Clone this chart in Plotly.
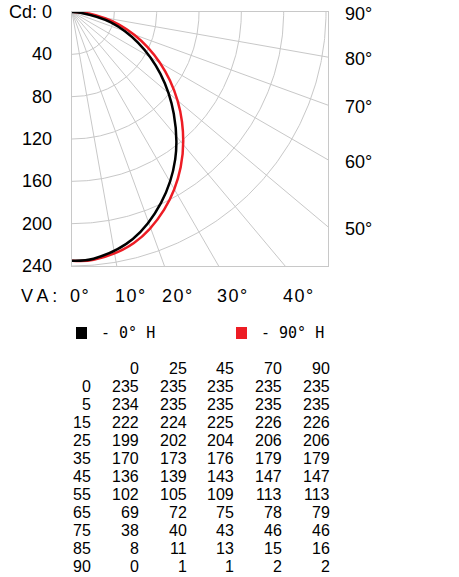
import numpy as np
import plotly.graph_objects as go

# ---------------- data ----------------
c_planes = [0, 25, 45, 70, 90]
gamma_angles = [0, 5, 15, 25, 35, 45, 55, 65, 75, 85, 90]
cd_c0 = [235, 234, 222, 199, 170, 136, 102, 69, 38, 8, 0]
cd_c25 = [235, 235, 224, 202, 173, 139, 105, 72, 40, 11, 1]
cd_c45 = [235, 235, 225, 204, 176, 143, 109, 75, 43, 13, 1]
cd_c70 = [235, 235, 226, 206, 179, 147, 113, 78, 46, 15, 2]
cd_c90 = [235, 235, 226, 206, 179, 147, 113, 79, 46, 16, 2]

cd_ticks = [0, 40, 80, 120, 160, 200, 240]
cd_tick_labels = ["Cd: 0", "40", "80", "120", "160", "200", "240"]
va_angles = [0, 10, 20, 30, 40]
va_labels = ["0°", "10°", "20°", "30°", "40°"]
side_angles = [90, 80, 70, 60, 50]
side_labels = ["90°", "80°", "70°", "60°", "50°"]
grid_circles = [40, 80, 120, 160, 200, 240]
grid_rays = [10, 20, 30, 40, 50, 60, 70, 80]
legend_labels = ["- 0° H", "- 90° H"]

# ---------------- geometry / style ----------------
W, H = 459, 577
PL, PT, PW, PH = 72, 12, 256, 254
K = PH / 240.0  # px per cd
X_MAX = PW / K
Y_MAX = PH / K
GRID = "#c8c8c8"
RED = "#ed1c24"
SANS = "Liberation Sans, Arial, sans-serif"
MONO = "DejaVu Sans Mono, Liberation Mono, monospace"


def pxx(x):
    return (x - PL) / PW


def pxy(y):
    return 1 - (y - PT) / PH


def to_xy(angles_deg, radii):
    a = np.radians(np.asarray(angles_deg, dtype=float))
    r = np.asarray(radii, dtype=float)
    return r * np.sin(a), r * np.cos(a)


fig = go.Figure()

# grid circles
t = np.linspace(0, 90, 181)
for rc in grid_circles:
    gx, gy = to_xy(t, np.full_like(t, rc))
    fig.add_trace(go.Scatter(x=gx, y=gy, mode="lines", line=dict(color=GRID, width=1),
                             hoverinfo="skip", showlegend=False))
# grid rays
for ang in grid_rays:
    gx, gy = to_xy([ang, ang], [0, 600])
    fig.add_trace(go.Scatter(x=gx, y=gy, mode="lines", line=dict(color=GRID, width=1),
                             hoverinfo="skip", showlegend=False))

# curves (red below black)
for vals, col, name in [(cd_c90, RED, "90° H"), (cd_c0, "#000000", "0° H")]:
    cx, cy = to_xy(gamma_angles, vals)
    fig.add_trace(go.Scatter(x=cx, y=cy, mode="lines", name=name,
                             line=dict(color=col, width=2.5, shape="spline", smoothing=1.0),
                             showlegend=False))

ann = []
# left Cd labels
for v, lab in zip(cd_ticks, cd_tick_labels):
    ann.append(dict(x=pxx(54), xref="paper", y=v, yref="y", text=lab, showarrow=False,
                    xanchor="right", yanchor="middle", font=dict(family=SANS, size=18, color="#000")))
# right angle labels
for a, lab in zip(side_angles, side_labels):
    yv = X_MAX * np.cos(np.radians(a)) / np.sin(np.radians(a))
    ann.append(dict(x=pxx(343), xref="paper", y=yv, yref="y", yshift=-2, text=lab, showarrow=False,
                    xanchor="left", yanchor="middle", font=dict(family=SANS, size=18, color="#000")))
# bottom VA labels
ann.append(dict(x=pxx(19), xref="paper", y=pxy(296), yref="paper", text="V\u2009A\u2009:",
                showarrow=False, xanchor="left", yanchor="middle",
                font=dict(family=SANS, size=18, color="#000")))
for a, lab in zip(va_angles, va_labels):
    xv = Y_MAX * np.tan(np.radians(a))
    ann.append(dict(x=xv, xref="x", xshift=-4, y=pxy(296), yref="paper",
                    text="\u200a".join(lab), showarrow=False, xanchor="left", yanchor="middle",
                    font=dict(family=SANS, size=18, color="#000")))
# legend texts
for xpos, lab in zip([99, 259], legend_labels):
    ann.append(dict(x=pxx(xpos), xref="paper", y=pxy(333), yref="paper", text=lab,
                    showarrow=False, xanchor="left", yanchor="middle",
                    font=dict(family=MONO, size=15, color="#000")))

# table
col_right = [93, 141, 188.5, 236, 284, 332]
row0 = 368.3
row_step = 18.04
cols = [cd_c0, cd_c25, cd_c45, cd_c70, cd_c90]
tfont = dict(family=SANS, size=16, color="#000")
for j, cp in enumerate(c_planes):
    ann.append(dict(x=pxx(col_right[j + 1]), xref="paper", y=pxy(row0), yref="paper",
                    text=str(cp), showarrow=False, xanchor="right", yanchor="middle", font=tfont))
for i, g in enumerate(gamma_angles):
    yy = pxy(row0 + (i + 1) * row_step)
    ann.append(dict(x=pxx(col_right[0]), xref="paper", y=yy, yref="paper", text=str(g),
                    showarrow=False, xanchor="right", yanchor="middle", font=tfont))
    for j, colv in enumerate(cols):
        ann.append(dict(x=pxx(col_right[j + 1]), xref="paper", y=yy, yref="paper",
                        text=str(colv[i]), showarrow=False, xanchor="right", yanchor="middle",
                        font=tfont))

shapes = [
    dict(type="rect", xref="paper", yref="paper", x0=pxx(76), x1=pxx(87), y0=pxy(339), y1=pxy(327),
         fillcolor="#000000", line=dict(width=0)),
    dict(type="rect", xref="paper", yref="paper", x0=pxx(236), x1=pxx(247), y0=pxy(339), y1=pxy(327),
         fillcolor=RED, line=dict(width=0)),
]

fig.update_layout(
    width=W, height=H, autosize=False,
    margin=dict(l=PL, r=W - PL - PW, t=PT, b=H - PT - PH, pad=0),
    paper_bgcolor="white", plot_bgcolor="white",
    annotations=ann, shapes=shapes,
    xaxis=dict(range=[0, X_MAX], showgrid=False, zeroline=False, showticklabels=False,
               ticks="", showline=True, mirror=True, linecolor=GRID, linewidth=1, fixedrange=True),
    yaxis=dict(range=[Y_MAX, 0], showgrid=False, zeroline=False, showticklabels=False,
               ticks="", showline=True, mirror=True, linecolor=GRID, linewidth=1, fixedrange=True),
    showlegend=False,
)

fig.write_html(
    "out.html",
    config={"displayModeBar": False},
    post_script="document.body.style.margin='0';document.body.style.padding='0';"
                "document.body.style.overflow='hidden';",
)
